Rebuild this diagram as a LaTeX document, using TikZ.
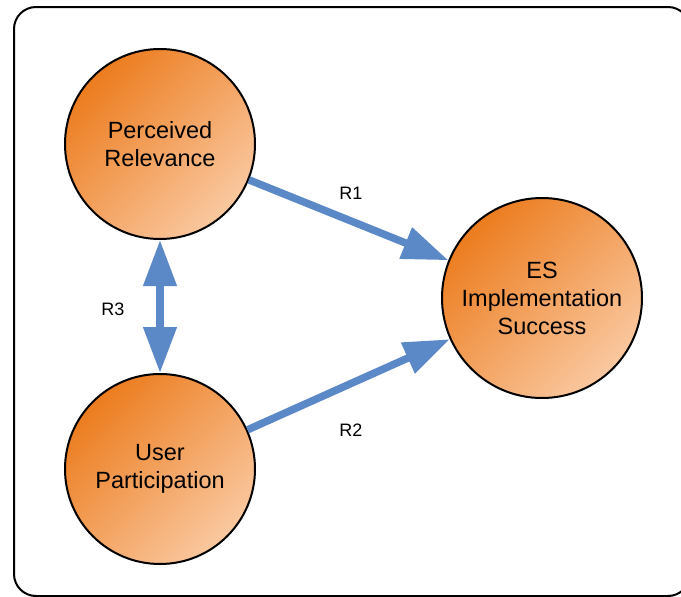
\documentclass[tikz,border=0pt]{standalone}
\usepackage{fontspec}
\setmainfont{Liberation Sans}
\usetikzlibrary{arrows.meta}
\definecolor{orangeD}{RGB}{236,124,30}
\definecolor{orangeL}{RGB}{250,200,160}
\definecolor{arrowblue}{RGB}{91,136,199}
\begin{document}
\begin{tikzpicture}[x=1pt,y=-1pt,
  concept/.style={circle, draw=black, line width=2pt, inner sep=0pt,
    top color=orangeD, middle color=orangeD!90!orangeL, bottom color=orangeL,
    shading angle=45, align=center, font=\fontsize{23.5}{28}\selectfont},
  link/.style={draw=arrowblue, line width=7.5pt},
  bigtip/.tip={Triangle[length=46pt,width=32pt]},
  lbl/.style={font=\fontsize{18}{21}\selectfont}]
\useasboundingbox (0,0) rectangle (681,597);
\draw[line width=2pt, rounded corners=22pt] (14,7) rectangle (690,596);
\node[concept, minimum size=190pt] (PR) at (160,144) {Perceived\\Relevance};
\node[concept, minimum size=190pt] (UP) at (160,469) {User\\Participation};
\node[concept, minimum size=200pt] (ES) at (542,298) {ES\\Implementation\\Success};
\draw[link, -bigtip] (PR) -- (ES);
\draw[link, -bigtip] (UP) -- (ES);
\draw[link, bigtip-bigtip] (PR) -- (UP);
\node[lbl] (r1) at (351,193) {R1};
\node[lbl] (r2) at (351,430) {R2};
\node[lbl] (r3) at (113,309) {R3};
\end{tikzpicture}
\end{document}
